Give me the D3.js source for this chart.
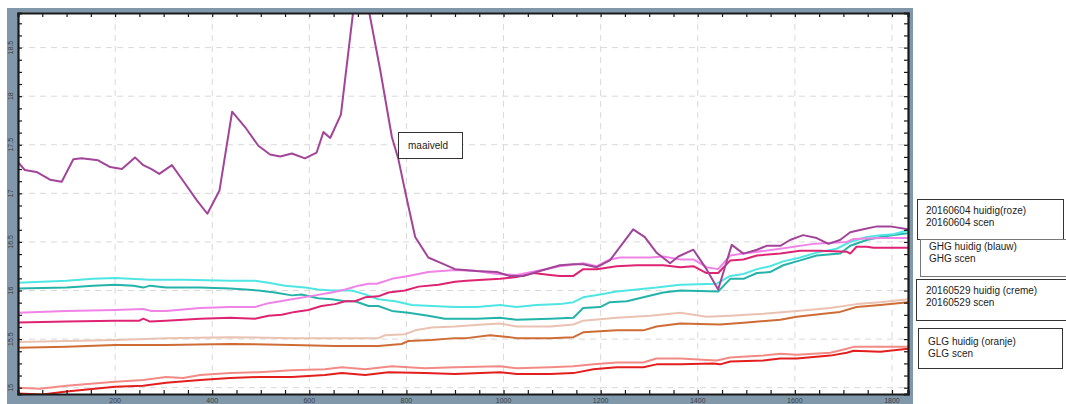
<!DOCTYPE html>
<html>
<head>
<meta charset="utf-8">
<script src="https://d3js.org/d3.v7.min.js"></script>
<style>
  body { margin: 0; background: #fff; }
  svg { display: block; }
</style>
</head>
<body>
<div class="graph"></div>
<script>
// profile data: [distance, level]
var maaiveld = [[0,17.32],[14,17.24],[38,17.22],[66,17.14],[90,17.12],[114,17.35],[131,17.36],[165,17.34],
  [190,17.27],[214,17.25],[241,17.37],[258,17.29],[275,17.25],[291,17.20],[317,17.29],[340,17.13],[368,16.93],
  [390,16.79],[415,17.03],[441,17.84],[468,17.68],[495,17.49],[519,17.40],[540,17.38],[564,17.41],[591,17.36],
  [615,17.42],[629,17.63],[643,17.57],[665,17.81],[691,18.9],[720,18.95],[746,18.27],[770,17.58],[783,17.36],
  [800,16.96],[818,16.55],[845,16.34],[873,16.28],[900,16.22],[945,16.20],[986,16.19],[1013,16.15],[1041,16.15],
  [1068,16.19],[1116,16.26],[1144,16.27],[1164,16.27],[1192,16.24],[1219,16.31],[1267,16.63],[1291,16.55],
  [1315,16.39],[1343,16.28],[1360,16.35],[1391,16.42],[1418,16.22],[1442,16.01],[1470,16.47],[1494,16.38],
  [1522,16.42],[1542,16.46],[1570,16.46],[1590,16.52],[1617,16.57],[1645,16.54],[1669,16.48],[1693,16.52],
  [1714,16.60],[1741,16.63],[1769,16.66],[1796,16.66],[1834,16.63]];

var scen0604 = [[0,15.77],[100,15.79],[200,15.80],[258,15.81],[275,15.79],[305,15.79],[375,15.82],[437,15.83],
  [488,15.83],[516,15.87],[564,15.91],[612,15.95],[646,15.98],[674,16.01],[701,16.05],[722,16.07],[739,16.07],
  [770,16.12],[804,16.15],[845,16.19],[900,16.21],[945,16.20],[986,16.17],[1027,16.16],[1068,16.20],[1116,16.25],
  [1164,16.28],[1192,16.25],[1219,16.32],[1240,16.34],[1302,16.34],[1329,16.35],[1364,16.32],[1391,16.32],
  [1418,16.24],[1442,16.22],[1467,16.36],[1494,16.38],[1570,16.43],[1638,16.48],[1666,16.49],[1707,16.50],
  [1721,16.53],[1776,16.54],[1834,16.54]];

var huidig0604 = [[0,15.67],[100,15.68],[200,15.69],[250,15.69],[258,15.71],[272,15.68],[305,15.69],[375,15.71],
  [437,15.72],[488,15.71],[516,15.74],[543,15.75],[570,15.78],[598,15.80],[625,15.84],[653,15.86],[674,15.89],
  [694,15.89],[715,15.93],[742,15.94],[763,15.98],[797,16.00],[825,16.04],[866,16.06],[900,16.09],[924,16.10],
  [958,16.11],[993,16.12],[1027,16.14],[1061,16.18],[1096,16.16],[1116,16.15],[1144,16.15],[1164,16.22],
  [1192,16.22],[1233,16.25],[1274,16.26],[1329,16.26],[1364,16.24],[1391,16.25],[1418,16.18],[1442,16.18],
  [1467,16.31],[1494,16.32],[1522,16.36],[1570,16.38],[1611,16.41],[1652,16.41],[1707,16.40],[1714,16.38],
  [1727,16.45],[1748,16.45],[1762,16.44],[1834,16.44]];

var ghgHuidig = [[0,16.08],[100,16.10],[155,16.12],[200,16.13],[272,16.11],[340,16.11],[437,16.10],[488,16.10],
  [516,16.08],[550,16.05],[591,16.03],[618,16.01],[646,16.00],[687,16.00],[715,15.96],[742,15.91],[777,15.89],
  [811,15.85],[852,15.84],[900,15.83],[945,15.83],[993,15.85],[1027,15.83],[1068,15.85],[1116,15.86],[1144,15.88],
  [1164,15.93],[1199,15.96],[1233,15.99],[1274,16.01],[1315,16.03],[1364,16.06],[1439,16.07],[1467,16.15],
  [1494,16.17],[1522,16.22],[1549,16.25],[1576,16.30],[1611,16.34],[1645,16.39],[1686,16.43],[1714,16.50],
  [1748,16.55],[1776,16.57],[1803,16.58],[1834,16.62]];

var ghgScen = [[0,16.02],[100,16.03],[155,16.05],[200,16.06],[238,16.05],[258,16.03],[272,16.05],[305,16.03],
  [375,16.03],[437,16.02],[468,16.01],[495,16.00],[529,15.98],[564,15.95],[584,15.96],[618,15.92],[646,15.91],
  [674,15.89],[694,15.89],[722,15.84],[742,15.84],[770,15.79],[804,15.77],[845,15.74],[879,15.71],[900,15.71],
  [945,15.71],[993,15.72],[1027,15.70],[1096,15.71],[1144,15.72],[1164,15.82],[1199,15.83],[1219,15.88],
  [1254,15.89],[1288,15.93],[1329,15.98],[1364,16.00],[1442,15.99],[1467,16.12],[1494,16.12],[1522,16.18],
  [1549,16.19],[1576,16.26],[1611,16.31],[1645,16.36],[1693,16.38],[1714,16.46],[1748,16.52],[1776,16.55],
  [1803,16.57],[1834,16.59]];

var huidig0529 = [[0,15.47],[100,15.48],[200,15.49],[305,15.51],[437,15.52],[564,15.51],[742,15.51],[756,15.54],
  [797,15.55],[818,15.59],[852,15.62],[900,15.63],[958,15.65],[993,15.66],[1027,15.63],[1096,15.63],[1144,15.65],
  [1164,15.69],[1233,15.72],[1302,15.74],[1364,15.77],[1391,15.75],[1418,15.73],[1467,15.74],[1535,15.76],
  [1604,15.79],[1673,15.82],[1727,15.86],[1776,15.88],[1834,15.91]];

var scen0529 = [[0,15.41],[100,15.42],[200,15.44],[305,15.44],[437,15.45],[564,15.44],[653,15.43],[742,15.43],
  [790,15.45],[804,15.48],[852,15.49],[900,15.51],[924,15.51],[972,15.54],[993,15.53],[1027,15.51],[1096,15.51],
  [1144,15.52],[1164,15.57],[1233,15.59],[1288,15.59],[1315,15.63],[1364,15.66],[1446,15.65],[1501,15.67],
  [1570,15.70],[1604,15.73],[1659,15.76],[1693,15.78],[1727,15.83],[1776,15.85],[1834,15.88]];

var glgHuidig = [[0,15.00],[45,14.99],[100,15.02],[200,15.06],[258,15.08],[305,15.11],[340,15.10],[375,15.13],
  [437,15.15],[495,15.16],[564,15.18],[632,15.19],[667,15.21],[715,15.19],[770,15.22],[838,15.20],[900,15.21],
  [993,15.22],[1027,15.20],[1096,15.21],[1144,15.22],[1185,15.24],[1233,15.26],[1288,15.26],[1315,15.30],
  [1364,15.30],[1439,15.28],[1467,15.31],[1535,15.33],[1570,15.35],[1604,15.34],[1673,15.36],[1707,15.40],
  [1721,15.42],[1834,15.42]];

var glgScen = [[0,14.94],[50,14.93],[100,14.96],[200,15.01],[258,15.02],[305,15.05],[375,15.08],[437,15.10],
  [495,15.11],[564,15.11],[632,15.13],[667,15.15],[715,15.13],[763,15.16],[838,15.15],[900,15.14],[993,15.16],
  [1027,15.14],[1096,15.14],[1144,15.15],[1185,15.19],[1233,15.21],[1288,15.21],[1315,15.24],[1364,15.24],
  [1432,15.25],[1446,15.24],[1467,15.27],[1535,15.28],[1570,15.30],[1604,15.30],[1673,15.33],[1707,15.36],
  [1721,15.38],[1776,15.37],[1834,15.40]];

var xTicks = [200, 400, 600, 800, 1000, 1200, 1400, 1600, 1800];
var yTicks = [15, 15.5, 16, 16.5, 17, 17.5, 18, 18.5];

var legendLines = [
  ["20160604 huidig(roze)", "20160604 scen"],
  ["GHG huidig (blauw)", "GHG scen"],
  ["20160529 huidig (creme)", "20160529 scen"],
  ["GLG huidig (oranje)", "GLG scen"]
];

// order = drawing order, bottom first
var series = [
  {data: glgScen, color: "#e31e1e"},
  {data: glgHuidig, color: "#f28a86"},
  {data: scen0529, color: "#cf6c35"},
  {data: huidig0529, color: "#e9c2b2"},
  {data: ghgScen, color: "#24b3a9"},
  {data: ghgHuidig, color: "#4ee6e2"},
  {data: huidig0604, color: "#de2372"},
  {data: scen0604, color: "#ef83e6"},
  {data: maaiveld, color: "#a24599"}
];

var W = 1066, H = 404;
var plot = {left: 18, right: 908, top: 13, bottom: 394};

var svg = d3.select("div.graph").append("svg")
    .attr("width", W)
    .attr("height", H);

// grey-blue panel behind the plot
svg.append("rect")
    .attr("x", 7).attr("y", 8)
    .attr("width", 906).attr("height", H - 8)
    .attr("fill", "#8198aa");

svg.append("rect")
    .attr("x", plot.left).attr("y", plot.top)
    .attr("width", plot.right - plot.left).attr("height", plot.bottom - plot.top)
    .attr("fill", "#fff");

var x = d3.scaleLinear().domain([0, 1833]).range([plot.left, plot.right]);
var y = d3.scaleLinear().domain([14.935, 18.856]).range([plot.bottom, plot.top]);

// dashed grid
svg.append("g")
  .selectAll("line.vg")
  .data(xTicks)
  .enter().append("line")
    .attr("x1", function(d) { return x(d); })
    .attr("x2", function(d) { return x(d); })
    .attr("y1", plot.top).attr("y2", plot.bottom)
    .attr("stroke", "#d9d9d9")
    .attr("stroke-dasharray", "6,5");

svg.append("g")
  .selectAll("line.hg")
  .data(yTicks)
  .enter().append("line")
    .attr("y1", function(d) { return y(d); })
    .attr("y2", function(d) { return y(d); })
    .attr("x1", plot.left).attr("x2", plot.right)
    .attr("stroke", "#d9d9d9")
    .attr("stroke-dasharray", "6,5");

// clip for the lines
svg.append("clipPath").attr("id", "clip")
  .append("rect")
    .attr("x", plot.left).attr("y", plot.top)
    .attr("width", plot.right - plot.left).attr("height", plot.bottom - plot.top);

var line = d3.line()
    .x(function(d) { return x(d[0]); })
    .y(function(d) { return y(d[1]); });

svg.append("g")
    .attr("clip-path", "url(#clip)")
  .selectAll("path")
  .data(series)
  .enter().append("path")
    .attr("d", function(d) { return line(d.data); })
    .attr("fill", "none")
    .attr("stroke", function(d) { return d.color; })
    .attr("stroke-width", 2)
    .attr("stroke-linejoin", "round");

// axes, ticks on all four sides
var xMinor = d3.range(50, 1833, 50);
var yMinor = d3.range(15, 18.86, 0.125);

var bottomAxis = d3.axisBottom(x).tickValues(xMinor)
    .tickSize(-4).tickFormat("");
var topAxis = d3.axisTop(x).tickValues(xMinor)
    .tickSize(-4).tickFormat("");
var leftAxis = d3.axisLeft(y).tickValues(yMinor)
    .tickSize(-4).tickFormat("");
var rightAxis = d3.axisRight(y).tickValues(yMinor)
    .tickSize(-4).tickFormat("");

svg.append("g").attr("class", "ax")
    .attr("transform", "translate(0," + plot.bottom + ")")
    .call(bottomAxis);
svg.append("g").attr("class", "ax")
    .attr("transform", "translate(0," + plot.top + ")")
    .call(topAxis);
svg.append("g").attr("class", "ax")
    .attr("transform", "translate(" + plot.left + ",0)")
    .call(leftAxis);
svg.append("g").attr("class", "ax")
    .attr("transform", "translate(" + plot.right + ",0)")
    .call(rightAxis);

svg.selectAll("g.ax path.domain")
    .attr("stroke", "#1a1a1a")
    .attr("stroke-width", 2.2);
svg.selectAll("g.ax .tick line")
    .attr("stroke", "#1a1a1a")
    .attr("stroke-width", 1.2);

// tick labels
svg.append("g")
  .selectAll("text")
  .data(xTicks)
  .enter().append("text")
    .attr("x", function(d) { return x(d); })
    .attr("y", 403)
    .attr("text-anchor", "middle")
    .attr("font-family", "Liberation Sans, Arial, sans-serif")
    .attr("font-size", 7)
    .attr("fill", "#3a3f44")
    .text(function(d) { return d; });

svg.append("g")
  .selectAll("text")
  .data(yTicks)
  .enter().append("text")
    .attr("transform", function(d) { return "translate(13," + y(d) + ") rotate(-90)"; })
    .attr("text-anchor", "middle")
    .attr("font-family", "Liberation Sans, Arial, sans-serif")
    .attr("font-size", 7)
    .attr("fill", "#3a3f44")
    .text(function(d) { return d; });

// maaiveld label
var lbl = svg.append("g");
lbl.append("rect")
    .attr("x", 398.5).attr("y", 132.5)
    .attr("width", 64).attr("height", 26)
    .attr("fill", "#fff")
    .attr("stroke", "#333");
lbl.append("text")
    .attr("x", 408).attr("y", 148.5)
    .attr("font-family", "Liberation Sans, Arial, sans-serif")
    .attr("font-size", 10)
    .attr("fill", "#222")
    .text("maaiveld");

// legend boxes on the right
var boxes = [
  {x: 917.5, y: 199.5, w: 146, h: 40, tx: 926, ty: 214, stroke: "#333"},
  {x: 920.5, y: 239.5, w: 150, h: 37, tx: 929, ty: 250, stroke: "#777"},
  {x: 916.5, y: 279.5, w: 150, h: 41, tx: 926, ty: 294, stroke: "#333"},
  {x: 918.5, y: 328.5, w: 144, h: 40, tx: 928, ty: 345, stroke: "#333"}
];

var lg = svg.append("g")
  .selectAll("g")
  .data(boxes)
  .enter().append("g");

lg.append("rect")
    .attr("x", function(d) { return d.x; })
    .attr("y", function(d) { return d.y; })
    .attr("width", function(d) { return d.w; })
    .attr("height", function(d) { return d.h; })
    .attr("fill", "#fff")
    .attr("stroke", function(d) { return d.stroke; });

lg.each(function(d, i) {
  var t = d3.select(this).append("text")
      .attr("font-family", "Liberation Sans, Arial, sans-serif")
      .attr("font-size", 10)
      .attr("fill", "#222");
  legendLines[i].forEach(function(s, j) {
    t.append("tspan")
      .attr("x", d.tx)
      .attr("y", d.ty + j * 12)
      .text(s);
  });
});
</script>
</body>
</html>
